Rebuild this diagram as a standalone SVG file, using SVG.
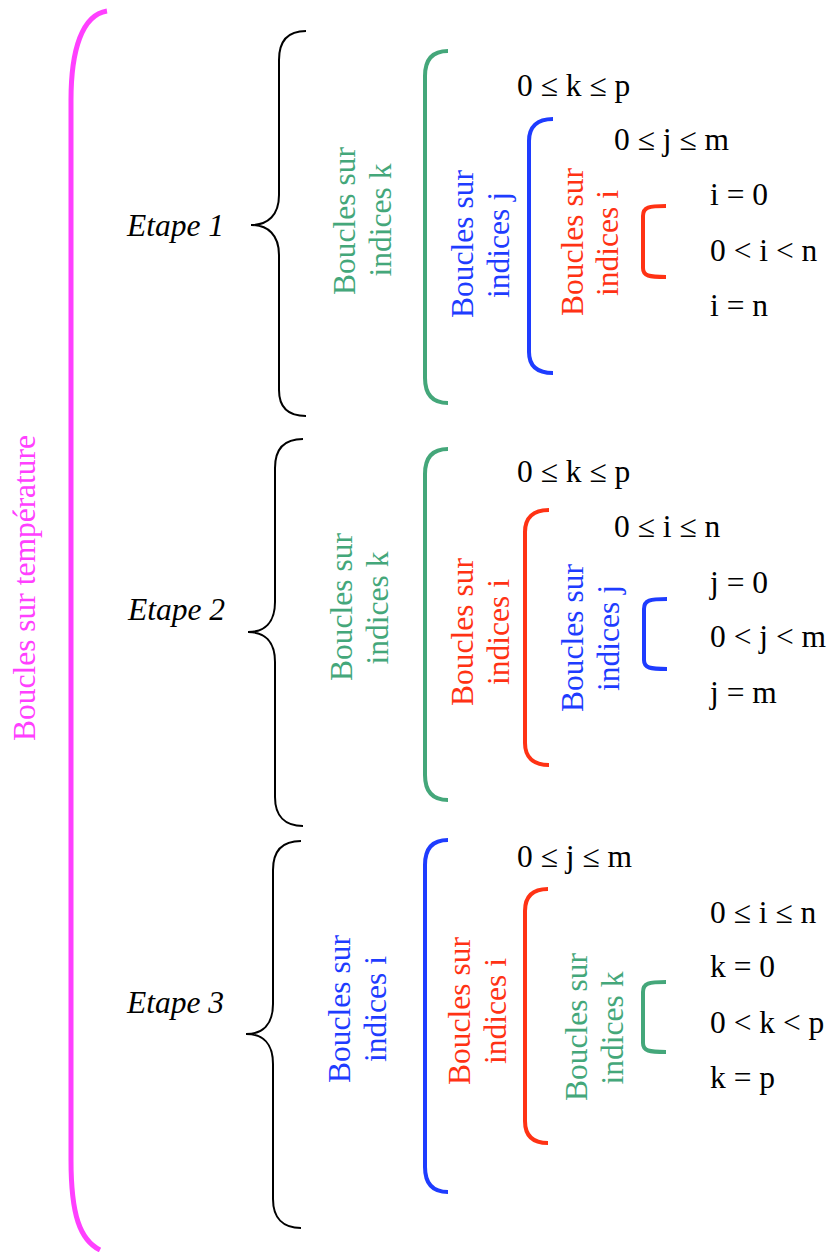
<svg xmlns="http://www.w3.org/2000/svg" width="831" height="1252" viewBox="0 0 831 1252">
<style>
text{font-family:"Liberation Serif","Times New Roman",serif;font-size:31.5px}
.it{font-style:italic;fill:#000}
.m{fill:#000}
.rot{text-anchor:middle}
.mag{fill:#FF40FF}
.gr{fill:#44A77A}
.bl{fill:#1E3CFF}
.rd{fill:#FF3214}
.br{fill:none;stroke:#000;stroke-width:2}
.bg{fill:none;stroke:#44A77A;stroke-width:4}
.bb{fill:none;stroke:#1E3CFF;stroke-width:4}
.bred{fill:none;stroke:#FF3214;stroke-width:4}
.bm{fill:none;stroke:#FF40FF;stroke-width:5}
</style>
<rect width="831" height="1252" fill="#fff"/>
<g id="connectors">
<path class="bm" d="M107,11 C82,15 71,50 71,100 L71,1160 C71,1215 80,1240 100,1250"/>
<path class="br" d="M306,31 C288,31 279,40 279,60 L279,195 C279,215 268,225 251,225 C268,225 279,235 279,255 L279,390 C279,408 288,416 306,416"/>
<path class="br" d="M303,439 C285,439 275,448 275,468 L275,602 C275,622 265,632 248,632 C265,632 275,642 275,662 L275,797 C275,816 285,826 303,826"/>
<path class="br" d="M301,841 C283,841 273,850 273,870 L273,1004 C273,1024 263,1034 246,1034 C263,1034 273,1044 273,1064 L273,1199 C273,1218 283,1228 301,1228"/>
<path class="bg" d="M448,51 C432,51 425,60 425,76 L425,378 C425,394 432,403 448,403"/>
<path class="bb" d="M553,119 C537,119 529,127 529,141 L529,352 C529,366 537,373 553,373"/>
<path class="bred" d="M666,206 C649,206 643,207 643,216 L643,268 C643,276 649,277 666,277"/>
<path class="bg" d="M448,449 C432,449 425,458 425,474 L425,775 C425,791 432,800 448,800"/>
<path class="bred" d="M549,510 C533,510 525,518 525,532 L525,743 C525,757 533,765 549,765"/>
<path class="bb" d="M667,599 C650,599 644,600 644,609 L644,660 C644,668 650,669 667,669"/>
<path class="bb" d="M448,840 C432,840 425,849 425,865 L425,1167 C425,1183 432,1192 448,1192"/>
<path class="bred" d="M548,889 C532,889 525,897 525,911 L525,1121 C525,1135 532,1143 548,1143"/>
<path class="bg" d="M666,982 C649,982 643,983 643,992 L643,1043 C643,1051 649,1052 666,1052"/>
</g>
<g id="temperature"><text class="rot mag" transform="translate(35,588) rotate(-90)">Boucles sur température</text></g>
<g id="etape1">
<text class="it" x="127" y="236">Etape 1</text>
<text class="rot gr" transform="translate(355,221) rotate(-90)">Boucles sur</text>
<text class="rot gr" transform="translate(391,220) rotate(-90)">indices k</text>
<text class="m" x="517" y="96">0 ≤ k ≤ p</text>
<text class="rot bl" transform="translate(473,244) rotate(-90)">Boucles sur</text>
<text class="rot bl" transform="translate(509,245) rotate(-90)">indices j</text>
<text class="m" x="614" y="150">0 ≤ j ≤ m</text>
<text class="rot rd" transform="translate(583,242) rotate(-90)">Boucles sur</text>
<text class="rot rd" transform="translate(618,243) rotate(-90)">indices i</text>
<text class="m" x="710" y="205">i = 0</text>
<text class="m" x="710" y="261">0 &lt; i &lt; n</text>
<text class="m" x="710" y="316">i = n</text>
</g>
<g id="etape2">
<text class="it" x="128" y="620">Etape 2</text>
<text class="rot gr" transform="translate(352,607) rotate(-90)">Boucles sur</text>
<text class="rot gr" transform="translate(388,608) rotate(-90)">indices k</text>
<text class="m" x="517" y="482">0 ≤ k ≤ p</text>
<text class="rot rd" transform="translate(473,632) rotate(-90)">Boucles sur</text>
<text class="rot rd" transform="translate(509,632) rotate(-90)">indices i</text>
<text class="m" x="614" y="537">0 ≤ i ≤ n</text>
<text class="rot bl" transform="translate(583,638) rotate(-90)">Boucles sur</text>
<text class="rot bl" transform="translate(619,638) rotate(-90)">indices j</text>
<text class="m" x="710" y="593">j = 0</text>
<text class="m" x="710" y="647">0 &lt; j &lt; m</text>
<text class="m" x="710" y="703">j = m</text>
</g>
<g id="etape3">
<text class="it" x="127" y="1013">Etape 3</text>
<text class="rot bl" transform="translate(350,1009) rotate(-90)">Boucles sur</text>
<text class="rot bl" transform="translate(386,1009) rotate(-90)">indices i</text>
<text class="m" x="517" y="867">0 ≤ j ≤ m</text>
<text class="rot rd" transform="translate(470,1011) rotate(-90)">Boucles sur</text>
<text class="rot rd" transform="translate(506,1011) rotate(-90)">indices i</text>
<text class="m" x="710" y="923">0 ≤ i ≤ n</text>
<text class="rot gr" transform="translate(587,1027) rotate(-90)">Boucles sur</text>
<text class="rot gr" transform="translate(623,1028) rotate(-90)">indices k</text>
<text class="m" x="710" y="977">k = 0</text>
<text class="m" x="710" y="1033">0 &lt; k &lt; p</text>
<text class="m" x="710" y="1088">k = p</text>
</g>
</svg>
